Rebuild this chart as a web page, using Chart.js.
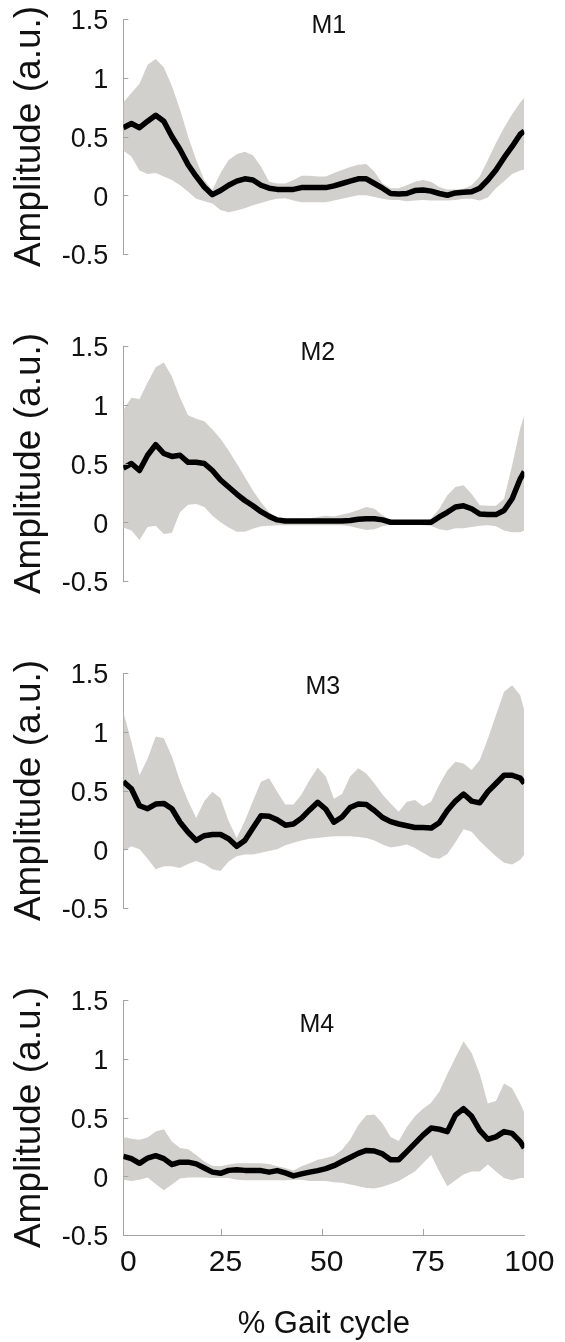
<!DOCTYPE html>
<html>
<head>
<meta charset="utf-8">
<script src="https://cdn.jsdelivr.net/npm/chart.js@4/dist/chart.umd.min.js"></script>
<style>
  html, body { margin: 0; padding: 0; background: #fff; }
  body { width: 565px; height: 1342px; position: relative; overflow: hidden; }
  .panel { position: absolute; left: 0; width: 565px; }
  canvas { display: block; }
</style>
</head>
<body>
<div class="panel" id="p0"><canvas id="c0" width="565" height="307"></canvas></div>
<div class="panel" id="p1"><canvas id="c1" width="565" height="307"></canvas></div>
<div class="panel" id="p2"><canvas id="c2" width="565" height="307"></canvas></div>
<div class="panel" id="p3"><canvas id="c3" width="565" height="374"></canvas></div>
<script>
// ---------- DATA ----------
const gaitX = [1,3,5,7,9,11,13,15,17,19,21,23,25,27,29,31,33,35,37,39,41,43,45,47,49,
               51,53,55,57,59,61,63,65,67,69,71,73,75,77,79,81,83,85,87,89,91,93,95,97,99,100];

const panelNames = ['M1', 'M2', 'M3', 'M4'];

const m1Mean  = [0.575,0.61,0.575,0.63,0.68, 0.63,0.50,0.39,0.26,0.16, 0.07,0.005,0.04,0.085,0.12, 0.14,0.13,0.085,0.06,0.05, 0.05,0.05,0.065,0.065,0.065, 0.065,0.08,0.10,0.12,0.14, 0.14,0.10,0.06,0.015,0.01, 0.015,0.04,0.045,0.035,0.015, 0.0,0.02,0.025,0.03,0.06, 0.13,0.215,0.32,0.415,0.52, 0.545];
const m1Upper = [0.79,0.87,0.95,1.11,1.16, 1.09,0.93,0.73,0.50,0.30, 0.13,0.045,0.19,0.30,0.35, 0.37,0.34,0.245,0.115,0.10, 0.10,0.13,0.165,0.165,0.16, 0.16,0.19,0.215,0.24,0.26, 0.265,0.20,0.10,0.06,0.06, 0.085,0.115,0.13,0.115,0.07, 0.05,0.05,0.055,0.085,0.16, 0.30,0.445,0.575,0.69,0.79, 0.83];
const m1Lower = [0.38,0.33,0.21,0.18,0.19, 0.16,0.13,0.085,0.03,-0.03, -0.05,-0.07,-0.125,-0.145,-0.13, -0.11,-0.085,-0.065,-0.045,-0.03, -0.025,-0.045,-0.06,-0.06,-0.06, -0.06,-0.045,-0.03,-0.015,0.0, 0.0,-0.015,-0.03,-0.04,-0.04, -0.05,-0.045,-0.04,-0.045,-0.045, -0.045,-0.04,-0.03,-0.03,-0.045, -0.02,0.06,0.12,0.18,0.21, 0.22];

const m2Mean  = [0.46,0.50,0.44,0.57,0.66, 0.585,0.56,0.57,0.51,0.51, 0.50,0.44,0.36,0.30,0.24, 0.185,0.14,0.09,0.05,0.02, 0.01,0.01,0.01,0.01,0.01, 0.01,0.01,0.01,0.015,0.025, 0.03,0.03,0.02,0.0,0.0, 0.0,0.0,0.0,0.0,0.045, 0.085,0.13,0.14,0.115,0.07, 0.065,0.065,0.10,0.20,0.37, 0.43];
const m2Upper = [0.955,1.06,1.05,1.19,1.32, 1.36,1.24,1.06,0.91,0.88, 0.86,0.79,0.71,0.61,0.50, 0.385,0.27,0.17,0.085,0.035, 0.03,0.03,0.03,0.035,0.045, 0.055,0.05,0.065,0.08,0.105, 0.13,0.115,0.06,0.015,0.005, 0.005,0.005,0.005,0.03,0.115, 0.23,0.30,0.315,0.24,0.145, 0.14,0.14,0.20,0.485,0.80, 0.91];
const m2Lower = [-0.045,-0.07,-0.15,-0.04,-0.03, -0.10,-0.09,0.085,0.15,0.155, 0.13,0.055,0.0,-0.045,-0.08, -0.08,-0.055,-0.035,-0.03,-0.025, -0.025,-0.025,-0.025,-0.025,-0.025, -0.025,-0.025,-0.025,-0.035,-0.05, -0.065,-0.06,-0.035,-0.02,-0.015, -0.015,-0.02,-0.025,-0.03,-0.06, -0.07,-0.05,-0.05,-0.04,-0.03, -0.025,-0.035,-0.07,-0.085,-0.085, -0.07];

const m3Mean  = [0.575,0.515,0.37,0.345,0.385, 0.39,0.345,0.23,0.145,0.075, 0.115,0.125,0.125,0.09,0.025, 0.075,0.18,0.285,0.28,0.25, 0.205,0.215,0.265,0.335,0.40, 0.34,0.23,0.275,0.355,0.385, 0.38,0.33,0.27,0.235,0.215, 0.20,0.185,0.185,0.18,0.225, 0.33,0.41,0.47,0.41,0.395, 0.49,0.56,0.63,0.63,0.605, 0.56];
const m3Upper = [1.17,0.915,0.63,0.77,0.96, 0.945,0.79,0.58,0.41,0.265, 0.41,0.49,0.435,0.24,0.095, 0.24,0.41,0.575,0.605,0.49, 0.38,0.38,0.465,0.59,0.695, 0.62,0.43,0.47,0.62,0.69, 0.645,0.56,0.465,0.39,0.32, 0.405,0.42,0.365,0.405,0.55, 0.67,0.745,0.73,0.675,0.76, 0.94,1.14,1.34,1.395,1.31, 1.18];
const m3Lower = [-0.02,0.025,0.0,-0.08,-0.17, -0.145,-0.145,-0.16,-0.125,-0.10, -0.125,-0.17,-0.185,-0.105,-0.06, -0.045,-0.045,-0.03,-0.015,0.0, 0.035,0.055,0.075,0.09,0.095, 0.105,0.11,0.11,0.11,0.105, 0.095,0.075,0.04,0.015,0.025, 0.04,0.01,-0.03,-0.07,-0.08, -0.04,0.06,0.17,0.15,0.07, 0.005,-0.06,-0.115,-0.13,-0.09, -0.045];

const m4Mean  = [0.17,0.15,0.11,0.155,0.175, 0.15,0.10,0.12,0.12,0.105, 0.07,0.035,0.025,0.05,0.055, 0.05,0.05,0.048,0.035,0.048, 0.028,0.003,0.02,0.035,0.048, 0.065,0.09,0.125,0.16,0.195, 0.22,0.215,0.19,0.14,0.14, 0.21,0.28,0.35,0.41,0.40, 0.38,0.52,0.575,0.51,0.39, 0.315,0.335,0.38,0.365,0.295, 0.24];
const m4Upper = [0.335,0.32,0.31,0.33,0.38, 0.40,0.295,0.24,0.23,0.18, 0.125,0.09,0.085,0.10,0.11, 0.11,0.11,0.11,0.105,0.085, 0.07,0.048,0.085,0.11,0.14, 0.155,0.175,0.225,0.31,0.435, 0.52,0.525,0.45,0.335,0.30, 0.42,0.51,0.575,0.625,0.72, 0.87,1.01,1.15,1.05,0.87, 0.62,0.64,0.79,0.75,0.62, 0.54];
const m4Lower = [-0.03,-0.04,-0.03,-0.01,-0.065, -0.12,-0.07,-0.02,-0.01,-0.01, -0.01,-0.015,-0.015,-0.015,-0.03, -0.035,-0.035,-0.035,-0.035,-0.035, -0.035,-0.03,-0.03,-0.04,-0.04, -0.04,-0.05,-0.055,-0.07,-0.085, -0.10,-0.105,-0.09,-0.065,-0.04, 0.0,0.04,0.11,0.18,0.04, -0.085,-0.035,0.015,0.04,0.04, 0.10,0.04,-0.015,-0.035,-0.015, -0.015];

const yTickValues = [-0.5, 0, 0.5, 1, 1.5];
const yTickLabels = ['-0.5', '0', '0.5', '1', '1.5'];
const xTickValues = [1, 25, 50, 75, 100];
const xTickLabels = ['0', '25', '50', '75', '100'];
const yAxisTitle = 'Amplitude (a.u.)';
const xAxisTitle = '% Gait cycle';

const meanSeries  = [m1Mean, m2Mean, m3Mean, m4Mean];
const upperSeries = [m1Upper, m2Upper, m3Upper, m4Upper];
const lowerSeries = [m1Lower, m2Lower, m3Lower, m4Lower];

// ---------- STYLE / LAYOUT ----------
const FONT = "'Liberation Sans', Arial, Helvetica, sans-serif";
const BAND = '#d2d0cc';
const AXIS = '#a3a3a3';
const TEXT = '#111111';
const PAD_TOP = 32;
const panelTops    = [-13, 314, 641, 968];
const panelHeights = [307, 307, 307, 374];
const nameDx = [5, -6, -1, -7];
const nameDy = [7, 7, 14, 25];

Chart.defaults.font.family = FONT;
Chart.defaults.color = TEXT;

const innerTicks = {
  id: 'innerTicks',
  afterDraw(chart) {
    const ctx = chart.ctx, a = chart.chartArea;
    ctx.save();
    ctx.strokeStyle = AXIS;
    ctx.lineWidth = 1;
    const ys = chart.scales.y;
    ys.ticks.forEach(t => {
      const py = Math.round(ys.getPixelForValue(t.value)) + 0.5;
      ctx.beginPath(); ctx.moveTo(a.left, py); ctx.lineTo(a.left + 5, py); ctx.stroke();
    });
    const xs = chart.scales.x;
    if (xs.options.display) {
      xs.ticks.forEach((t, i) => {
        if (i === 0 || i === xs.ticks.length - 1) return;
        const px = Math.round(xs.getPixelForValue(t.value)) + 0.5;
        ctx.beginPath(); ctx.moveTo(px, a.bottom); ctx.lineTo(px, a.bottom - 6); ctx.stroke();
      });
    }
    ctx.restore();
  }
};

const panelName = {
  id: 'panelName',
  afterDatasetsDraw(chart, args, opts) {
    const ctx = chart.ctx, a = chart.chartArea;
    ctx.save();
    ctx.font = '25px ' + FONT;
    ctx.fillStyle = TEXT;
    ctx.textAlign = 'center';
    ctx.textBaseline = 'middle';
    ctx.fillText(opts.text, (a.left + a.right) / 2 + opts.dx, a.top + opts.dy);
    ctx.restore();
  }
};

function pts(ys) { return gaitX.map((x, i) => ({ x: x, y: ys[i] })); }

for (let k = 0; k < 4; k++) {
  const isLast = k === 3;
  document.getElementById('p' + k).style.top = panelTops[k] + 'px';
  const ctx = document.getElementById('c' + k);
  new Chart(ctx, {
    type: 'line',
    data: {
      datasets: [
        { label: panelNames[k] + ' mean', data: pts(meanSeries[k]), borderColor: '#000', borderWidth: 5.5,
          pointRadius: 0, fill: false, tension: 0, borderJoinStyle: 'round', borderCapStyle: 'butt' },
        { label: 'upper', data: pts(upperSeries[k]), borderWidth: 0, borderColor: BAND, backgroundColor: BAND,
          pointRadius: 0, fill: '+1', tension: 0 },
        { label: 'lower', data: pts(lowerSeries[k]), borderWidth: 0, borderColor: BAND,
          pointRadius: 0, fill: false, tension: 0 }
      ]
    },
    options: {
      responsive: false,
      animation: false,
      events: [],
      layout: { padding: { top: PAD_TOP, right: 40.7, bottom: isLast ? 0 : 40, left: 0 } },
      plugins: {
        legend: { display: false },
        tooltip: { enabled: false },
        panelName: { text: panelNames[k], dx: nameDx[k], dy: nameDy[k] }
      },
      scales: {
        x: {
          type: 'linear', min: 1, max: 100, position: 'bottom',
          display: isLast,
          afterBuildTicks: s => { s.ticks = xTickValues.map(v => ({ value: v })); },
          ticks: { callback: (v, i) => xTickLabels[i], font: { size: 30 }, color: TEXT,
                   padding: 10, labelOffset: 5, autoSkip: false, maxRotation: 0 },
          grid: { display: false, drawTicks: false },
          border: { display: true, color: AXIS, width: 1 },
          title: { display: true, text: xAxisTitle, font: { size: 31, lineHeight: 1 }, color: TEXT,
                   padding: { top: 0, bottom: 2 } },
          afterFit: s => { if (isLast) s.height = 107; else s.height = 0; }
        },
        y: {
          type: 'linear', min: -0.5, max: 1.5,
          afterBuildTicks: s => { s.ticks = yTickValues.map(v => ({ value: v })); },
          ticks: { callback: (v, i) => yTickLabels[i], font: { size: 27 }, color: TEXT,
                   padding: 15, labelOffset: 3, autoSkip: false },
          grid: { display: false, drawTicks: false },
          border: { display: true, color: AXIS, width: 1 },
          title: { display: true, text: yAxisTitle, font: { size: 37, lineHeight: 1 }, color: TEXT,
                   padding: { top: 11, bottom: 0 } },
          afterFit: s => { s.width = 123.3; }
        }
      }
    },
    plugins: [innerTicks, panelName]
  });
}
</script>
</body>
</html>
